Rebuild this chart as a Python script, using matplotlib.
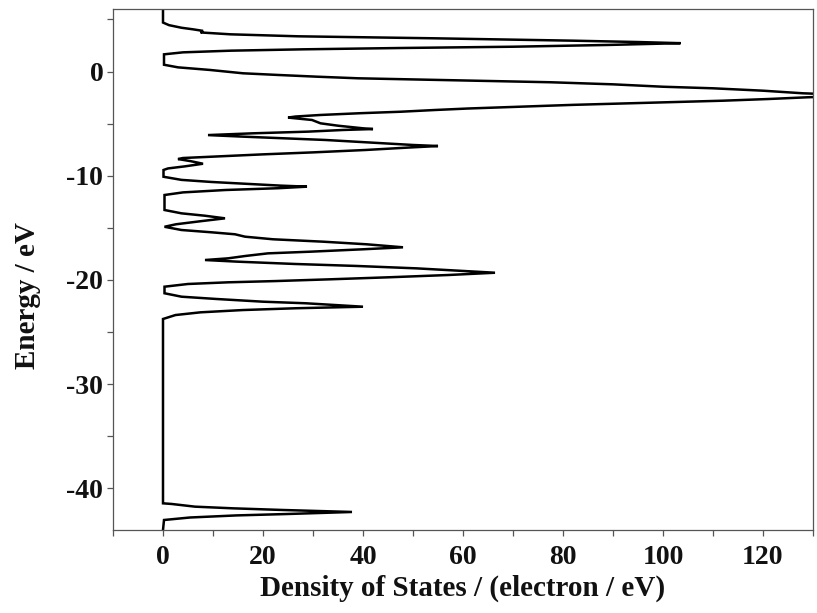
import matplotlib
matplotlib.use("Agg")
import matplotlib.pyplot as plt
from matplotlib.ticker import MultipleLocator

# Total density of states, sampled along the energy axis (top to bottom)
energy = [
    6.0, 4.7, 4.45, 4.2, 4.05, 3.9, 3.75, 3.57, 3.38, 3.19, 2.96, 2.83, 2.72,
    2.55, 2.38, 2.26, 2.13, 2.0, 1.84, 1.65, 0.65, 0.4, 0.15, -0.17, -0.33,
    -0.5, -0.65, -0.78, -0.91, -1.03, -1.23, -1.46, -1.61, -1.84, -2.09, -2.3,
    -2.47, -2.64, -2.8, -2.93, -3.05, -3.2, -3.43, -3.55, -3.69, -3.86, -4.0,
    -4.17, -4.32, -4.42, -4.65, -4.97, -5.2, -5.45, -5.52, -5.61, -5.77,
    -5.93, -6.1, -6.25, -6.4, -6.57, -6.8, -7.05, -7.15, -7.3, -7.53, -7.76,
    -7.95, -8.17, -8.3, -8.4, -8.6, -8.85, -9.1, -9.3, -9.45, -10.1, -10.4,
    -10.6, -10.8, -10.95, -11.05, -11.2, -11.37, -11.6, -11.85, -13.29,
    -13.61, -13.84, -14.09, -14.35, -14.66, -14.9, -15.21, -15.43, -15.62,
    -15.85, -16.1, -16.33, -16.58, -16.87, -17.06, -17.29, -17.45, -17.7,
    -17.93, -18.09, -18.25, -18.47, -18.66, -18.89, -19.15, -19.31, -19.53,
    -19.75, -19.94, -20.11, -20.23, -20.39, -20.65, -21.28, -21.61, -21.83,
    -22.09, -22.24, -22.57, -22.72, -22.89, -23.11, -23.37, -23.75, -41.44,
    -41.5, -41.76, -41.92, -42.08, -42.27, -42.47, -42.6, -42.8, -43.04, -44.0,
]
dos = [
    0.0, 0.0, 1.2, 3.7, 6.0, 8.0, 7.5, 13.5, 27.0, 54.0, 82.0, 95.0, 103.5,
    89.0, 70.0, 48.0, 28.0, 13.5, 4.0, 0.2, 0.2, 3.0, 9.4, 16.0, 23.0,
    31.0, 39.0, 52.0, 65.5, 77.5, 90.0, 100.0, 110.0, 120.0, 128.0, 140.0,
    129.0, 121.0, 112.0, 102.0, 92.0, 82.0, 68.0, 61.0, 54.5, 47.5, 39.5,
    31.5, 26.5, 25.0, 29.8, 31.5, 35.0, 40.0, 42.0, 36.0, 29.0,
    18.0, 9.0, 16.0, 23.5, 32.5, 41.0, 50.0, 55.0, 49.0, 40.5, 30.0,
    20.0, 10.0, 4.0, 3.0, 5.5, 8.0, 4.4, 1.0, 0.1, 0.1, 3.7,
    9.7, 17.4, 23.5, 28.8, 23.0, 12.5, 4.0, 0.3, 0.3,
    3.7, 8.4, 12.4, 7.8, 2.6, 0.3, 3.7, 9.7, 14.4,
    16.4, 22.0, 32.0, 40.7, 48.0, 40.0, 29.5, 21.0, 16.5,
    13.0, 8.4, 15.0, 26.4, 38.7, 50.7, 60.4, 66.4, 57.0,
    45.0, 33.5, 22.5, 13.0, 5.0, 0.3, 0.3, 3.7, 10.7,
    20.0, 28.5, 40.0, 26.5, 16.0, 7.5, 2.5, 0.0, 0.0,
    1.7, 6.4, 14.0, 24.0, 37.8, 24.5, 14.7, 5.4, 0.2, 0.0,
]

x_ticks = [0, 20, 40, 60, 80, 100, 120]
y_ticks = [0, -10, -20, -30, -40]

plt.rcParams["font.family"] = ["Liberation Serif", "DejaVu Serif"]
plt.rcParams["font.weight"] = "bold"
plt.rcParams["axes.unicode_minus"] = False

fig = plt.figure(figsize=(8.17, 6.13), dpi=100)
ax = fig.add_axes([113 / 817, 1 - 530 / 613, 700 / 817, 521 / 613])

ax.plot(dos, energy, color="black", linewidth=1.8, solid_joinstyle="miter")

ax.set_xlim(-10, 130)
ax.set_ylim(-44, 6)
ax.set_xticks(x_ticks)
ax.set_yticks(y_ticks)
ax.xaxis.set_minor_locator(MultipleLocator(10))
ax.yaxis.set_minor_locator(MultipleLocator(5))

for side in ax.spines.values():
    side.set_color("#555555")
    side.set_linewidth(0.9)

ax.tick_params(which="both", direction="out", color="#555555", width=0.9,
               labelsize=20, labelcolor="#111111")
ax.tick_params(which="both", length=4.5)
ax.tick_params(axis="y", which="major", pad=2.5)
ax.tick_params(axis="x", which="major", pad=6)
ax.tick_params(top=False, right=False, which="both")

ax.set_xlabel("Density of States / (electron / eV)", fontsize=21,
              fontweight="bold", color="#111111", labelpad=4)
ax.set_ylabel("Energy / eV", fontsize=21, fontweight="bold",
              color="#111111")
ax.yaxis.set_label_coords(-0.103, 0.45)

fig.savefig("out.png", dpi=100)
